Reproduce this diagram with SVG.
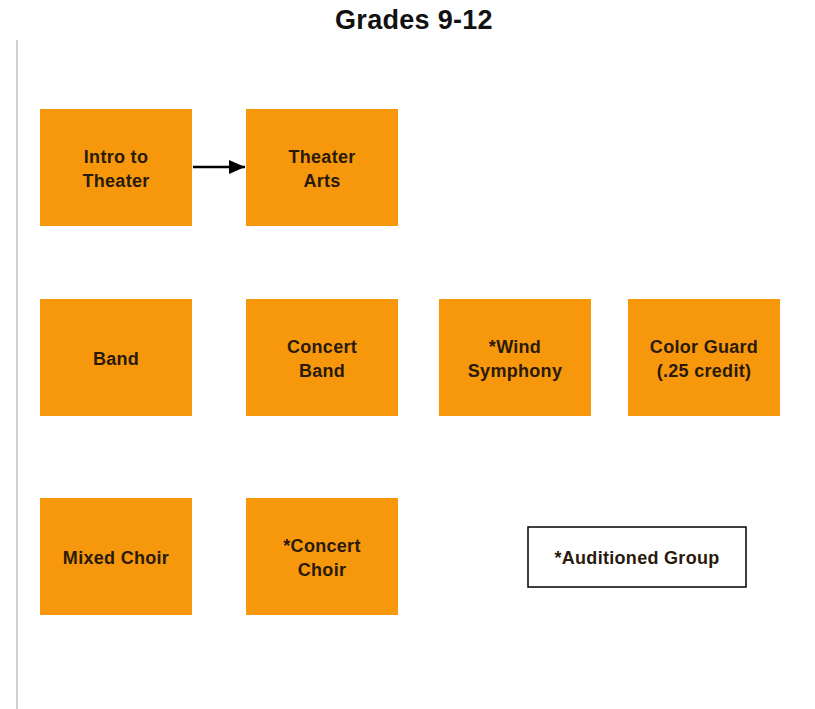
<svg xmlns="http://www.w3.org/2000/svg" width="815" height="709" viewBox="0 0 815 709">
<style>
.box{fill:#F7980C;}
.t{font-family:"Liberation Sans",Arial,sans-serif;font-weight:bold;font-size:18px;letter-spacing:0.3px;fill:#2a1a0c;text-anchor:middle;}
.title{font-family:"Liberation Sans",Arial,sans-serif;font-weight:bold;font-size:27px;letter-spacing:0.3px;fill:#111;text-anchor:middle;}
</style>
<defs>
<marker id="ah" markerWidth="16" markerHeight="14" refX="16" refY="7" orient="auto" markerUnits="userSpaceOnUse" viewBox="0 0 16 14">
<path d="M0,0 L16,7 L0,14 z" fill="#000"/>
</marker>
</defs>
<rect width="815" height="709" fill="#fff"/>
<line x1="17" y1="40" x2="17" y2="709" stroke="#cfcfcf" stroke-width="2"/>
<text class="title" x="414" y="29">Grades 9-12</text>
<g id="connectors">
<line x1="193" y1="167" x2="245" y2="167" stroke="#000" stroke-width="2.5" marker-end="url(#ah)"/>
</g>
<g id="intro-theater"><rect class="box" x="40" y="109" width="152" height="117"/><text class="t" x="116" y="163">Intro to</text><text class="t" x="116" y="187">Theater</text></g>
<g id="theater-arts"><rect class="box" x="246" y="109" width="152" height="117"/><text class="t" x="322" y="163">Theater</text><text class="t" x="322" y="187">Arts</text></g>
<g id="band"><rect class="box" x="40" y="299" width="152" height="117"/><text class="t" x="116" y="365">Band</text></g>
<g id="concert-band"><rect class="box" x="246" y="299" width="152" height="117"/><text class="t" x="322" y="353">Concert</text><text class="t" x="322" y="377">Band</text></g>
<g id="wind-symphony"><rect class="box" x="439" y="299" width="152" height="117"/><text class="t" x="515" y="353">*Wind</text><text class="t" x="515" y="377">Symphony</text></g>
<g id="color-guard"><rect class="box" x="628" y="299" width="152" height="117"/><text class="t" x="704" y="353">Color Guard</text><text class="t" x="704" y="377">(.25 credit)</text></g>
<g id="mixed-choir"><rect class="box" x="40" y="498" width="152" height="117"/><text class="t" x="116" y="564">Mixed Choir</text></g>
<g id="concert-choir"><rect class="box" x="246" y="498" width="152" height="117"/><text class="t" x="322" y="552">*Concert</text><text class="t" x="322" y="576">Choir</text></g>
<g id="legend"><rect x="528" y="527" width="218" height="60" fill="#fff" stroke="#000" stroke-width="1.5"/><text class="t" x="637" y="564">*Auditioned Group</text></g>
</svg>
